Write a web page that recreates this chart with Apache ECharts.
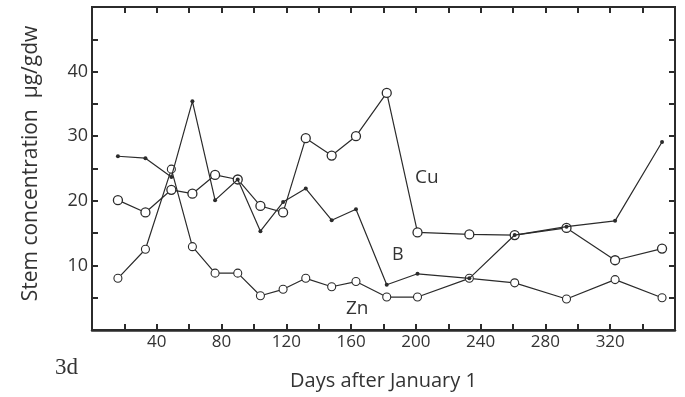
<!DOCTYPE html>
<html>
<head>
<meta charset="utf-8">
<script src="https://cdn.jsdelivr.net/npm/echarts@6/dist/echarts.min.js"></script>
<style>
html,body{margin:0;padding:0;background:#fff;}
#c{width:685px;height:397px;}
</style>
</head>
<body>
<div id="c"></div>
<script>
const days = [16, 33, 49, 62, 76, 90, 104, 118, 132, 148, 163, 182, 201, 233, 261, 293, 323, 352];
const cuValues = [20.1, 18.2, 21.7, 21.1, 24.0, 23.3, 19.2, 18.2, 29.7, 27.0, 30.0, 36.7, 15.1, 14.8, 14.7, 15.8, 10.8, 12.6];
const bValues = [26.9, 26.6, 23.7, 35.4, 20.1, 23.3, 15.3, 19.8, 21.9, 17.0, 18.7, 7.0, 8.7, 8.0, 14.7, 16.0, 16.9, 29.1];
const znValues = [8.0, 12.5, 24.9, 12.9, 8.8, 8.8, 5.3, 6.3, 8.0, 6.7, 7.5, 5.1, 5.1, 8.0, 7.3, 4.8, 7.8, 5.0];
const xLabels = [40, 80, 120, 160, 200, 240, 280, 320];
const yLabels = [10, 20, 30, 40];

const ink = '#2b2b2b';
const font = 'Open Sans';
const pair = (xs, ys) => xs.map((x, i) => [x, ys[i]]);
const mkTick = () => ({show: true, inside: true, length: 6, lineStyle: {color: ink, width: 2}});
const mkLine = (w) => ({show: true, onZero: false, lineStyle: {color: ink, width: w}});

const chart = echarts.init(document.getElementById('c'), null, {renderer: 'canvas'});

chart.setOption({
  backgroundColor: '#ffffff',
  animation: false,
  grid: {left: 92, right: 10, top: 7, bottom: 67, show: true, borderColor: ink, borderWidth: 2, backgroundColor: 'transparent'},
  xAxis: [{
    type: 'value', min: 0, max: 360, interval: 20, position: 'bottom',
    axisLine: mkLine(2.5),
    axisTick: mkTick(), splitLine: {show: false},
    axisLabel: {
      show: true, color: '#333', fontFamily: font, fontSize: 17, margin: 4,
      formatter: v => xLabels.includes(v) ? String(v) : ''
    },
    name: 'Days after January 1', nameLocation: 'middle', nameGap: 41,
    nameTextStyle: {color: '#333', fontFamily: font, fontSize: 20}
  }, {
    type: 'value', min: 0, max: 360, interval: 20, position: 'top', show: true,
    axisLine: mkLine(2), axisTick: mkTick(), axisLabel: {show: false}, splitLine: {show: false}
  }],
  yAxis: [{
    type: 'value', min: 0, max: 50, interval: 5, position: 'left',
    axisLine: mkLine(2),
    axisTick: mkTick(), splitLine: {show: false},
    axisLabel: {
      show: true, color: '#333', fontFamily: font, fontSize: 18, margin: 4,
      formatter: v => yLabels.includes(v) ? String(v) : ''
    },
    name: 'Stem concentration  \u03bcg/gdw', nameLocation: 'middle', nameGap: 50, nameRotate: 90,
    nameTextStyle: {color: '#333', fontFamily: font, fontSize: 21, padding: [0, 0, 0, 10]}
  }, {
    type: 'value', min: 0, max: 50, interval: 5, position: 'right', show: true,
    axisLine: mkLine(2), axisTick: mkTick(), axisLabel: {show: false}, splitLine: {show: false}
  }],
  series: [{
    name: 'Cu', type: 'line', data: pair(days, cuValues),
    symbol: 'circle', symbolSize: 9,
    lineStyle: {color: ink, width: 1.2},
    itemStyle: {color: '#fff', borderColor: ink, borderWidth: 1.3}, z: 3
  }, {
    name: 'Zn', type: 'line', data: pair(days, znValues),
    symbol: 'circle', symbolSize: 8,
    lineStyle: {color: ink, width: 1.2},
    itemStyle: {color: '#fff', borderColor: ink, borderWidth: 1.1}, z: 2
  }, {
    name: 'B', type: 'line', data: pair(days, bValues),
    symbol: 'circle', symbolSize: 4,
    lineStyle: {color: ink, width: 1.2},
    itemStyle: {color: ink, borderWidth: 0}, z: 4
  }, {
    name: 'frame', type: 'line', xAxisIndex: 1, yAxisIndex: 1, data: [], silent: true
  }],
  graphic: [
    {type: 'text', left: 415, top: 168, style: {text: 'Cu', fontFamily: font, fontSize: 19, fill: '#333'}},
    {type: 'text', left: 392, top: 246, style: {text: 'B', fontFamily: font, fontSize: 18, fill: '#333'}},
    {type: 'text', left: 346, top: 299, style: {text: 'Zn', fontFamily: font, fontSize: 19, fill: '#333'}},
    {type: 'text', left: 55, top: 356, style: {text: '3d', fontFamily: 'Liberation Serif', fontSize: 23, fill: '#333'}}
  ]
});
</script>
</body>
</html>
